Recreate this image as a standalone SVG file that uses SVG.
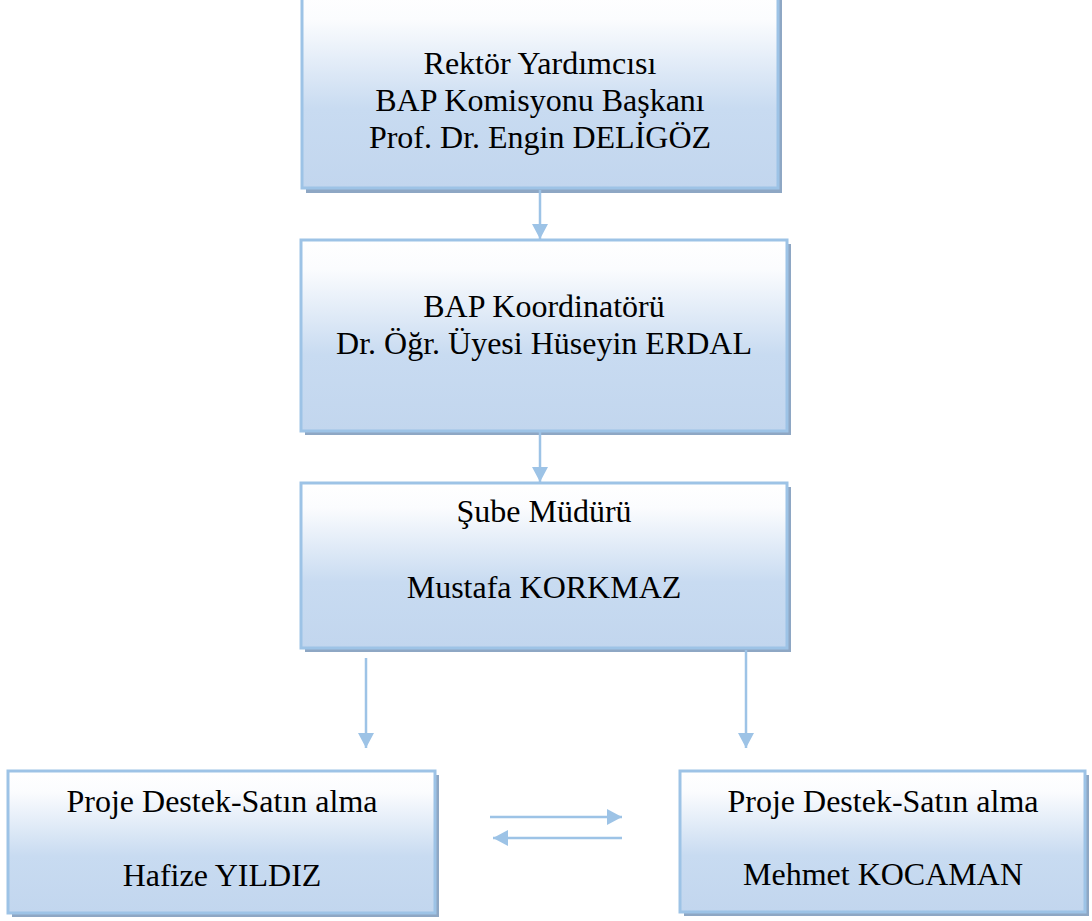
<svg xmlns="http://www.w3.org/2000/svg" width="1092" height="921" viewBox="0 0 1092 921">
<defs>
<linearGradient id="g" x1="0" y1="0" x2="0" y2="1">
<stop offset="0" stop-color="#ffffff"/>
<stop offset="0.15" stop-color="#fbfcfe"/>
<stop offset="0.6" stop-color="#c8dbf1"/>
<stop offset="1" stop-color="#c2d6ee"/>
</linearGradient>
<marker id="ah" markerUnits="userSpaceOnUse" markerWidth="16" markerHeight="16" viewBox="0 0 16 16" refX="15" refY="8" orient="auto">
<path d="M0,0 L15,8 L0,16 Z" fill="#9dc3e6"/>
</marker>
<style>
.shadow{fill:#8ea7c4}
.box{fill:url(#g);stroke:#9dc3e6;stroke-width:3}
.t{font-family:'Liberation Serif','Times New Roman',Tinos,'DejaVu Serif',serif;font-size:32px;fill:#000;text-anchor:middle}
.c{stroke:#9dc3e6;stroke-width:2.5;fill:none;marker-end:url(#ah)}
</style>
</defs>
<g id="n1">
<rect class="shadow" x="306" y="-10" width="476" height="203"/>
<rect class="box" x="302" y="-10" width="476" height="198"/>
<text class="t" x="540" y="74" font-family="Liberation Serif, serif">Rektör Yardımcısı</text>
<text class="t" x="540" y="111" font-family="Liberation Serif, serif">BAP Komisyonu Başkanı</text>
<text class="t" x="540" y="148" font-family="Liberation Serif, serif">Prof. Dr. Engin DELİGÖZ</text>
</g>
<g id="n2">
<rect class="shadow" x="305" y="244" width="486" height="191"/>
<rect class="box" x="301" y="240" width="486" height="191"/>
<text class="t" x="544" y="317" font-family="Liberation Serif, serif">BAP Koordinatörü</text>
<text class="t" x="544" y="354" font-family="Liberation Serif, serif">Dr. Öğr. Üyesi Hüseyin ERDAL</text>
</g>
<g id="n3">
<rect class="shadow" x="305" y="487" width="486" height="165"/>
<rect class="box" x="301" y="483" width="486" height="165"/>
<text class="t" x="544" y="522" font-family="Liberation Serif, serif">Şube Müdürü</text>
<text class="t" x="544" y="598" font-family="Liberation Serif, serif">Mustafa KORKMAZ</text>
</g>
<g id="n4">
<rect class="shadow" x="12" y="775" width="427" height="142"/>
<rect class="box" x="8" y="771" width="427" height="142"/>
<text class="t" x="222" y="812" font-family="Liberation Serif, serif">Proje Destek-Satın alma</text>
<text class="t" x="222" y="886" font-family="Liberation Serif, serif">Hafize YILDIZ</text>
</g>
<g id="n5">
<rect class="shadow" x="684" y="775" width="405" height="141"/>
<rect class="box" x="680" y="771" width="405" height="141"/>
<text class="t" x="883" y="812" font-family="Liberation Serif, serif">Proje Destek-Satın alma</text>
<text class="t" x="883" y="885" font-family="Liberation Serif, serif">Mehmet KOCAMAN</text>
</g>
<g id="connectors">
<line class="c" x1="540" y1="190" x2="540" y2="239"/>
<line class="c" x1="540" y1="432" x2="540" y2="482"/>
<line class="c" x1="366" y1="658" x2="366" y2="748"/>
<line class="c" x1="746" y1="650" x2="746" y2="748"/>
<line class="c" x1="490" y1="817" x2="622" y2="817"/>
<line class="c" x1="622" y1="838" x2="493" y2="838"/>
</g>
</svg>
